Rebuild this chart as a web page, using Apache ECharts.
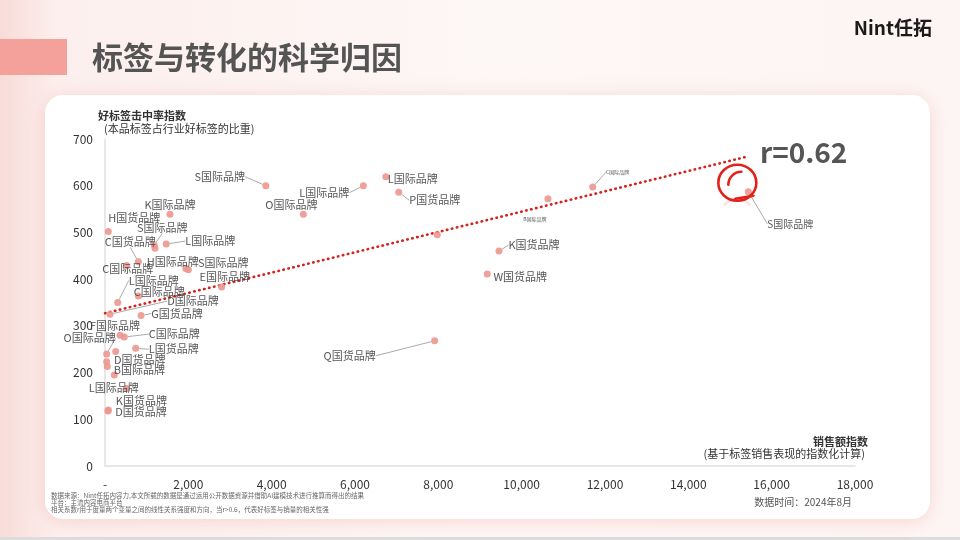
<!DOCTYPE html>
<html><head><meta charset="utf-8">
<script src="https://cdn.jsdelivr.net/npm/echarts@6/dist/echarts.min.js"></script>
<style>html,body{margin:0;padding:0;background:#fdf6f5;}#c{width:960px;height:540px;}</style>
</head><body><div id="c"></div>
<script>
// ---- data ----
const brandNames = ['S国际品牌','L国际品牌','L国际品牌','P国货品牌','O国际品牌','K国际品牌','H国货品牌','S国际品牌','','L国际品牌','C国际品牌','C国货品牌','H国际品牌','S国际品牌','E国际品牌','L国际品牌','C国际品牌','D国际品牌','G国货品牌','F国际品牌','C国际品牌','L国货品牌','O国际品牌','D国货品牌','','','B国际品牌','L国际品牌','K国货品牌','D国货品牌','','K国货品牌','W国货品牌','B国际品牌','C国际品牌','S国际品牌','Q国货品牌'];
const salesIndex = [3860,6200,6740,7050,4760,1560,80,1180,1200,1470,520,800,1940,2000,2800,305,800,120,865,360,463,737,40,257,40,55,223,520,80,70,7975,9456,9175,10630,11705,15440,7910];
const hitIndex   = [600,600,619,586,539,539,502,473,466,475,429,437,423,420,383,350,364,325,322,280,276,252,240,245,223,213,195,166,120,118,495,460,411,572,597,587,268];
const trendX = [0, 15400];
const trendY = [327, 662];
const xTicks = [0,2000,4000,6000,8000,10000,12000,14000,16000,18000];
const yTicks = [0,100,200,300,400,500,600,700];
const rValue = 'r=0.62';

// ---- label styling (offsets from point, px) ----
const labelDx = [-46,-39,27,36,-12,0,26,8,0,44,1,-8,-13,35,3,36,21,83,36,-5,50,38,-17,24,0,0,25,-13,33,33,0,35,33,-13,25,42,-85];
const labelDy = [-9,7,2,8,-9,-9,-14,-17,0,-3,3,-20,-7,-7,-10,-22,-4,-13,-2,-9,-3,1,-16,8,0,0,-5,-1,-9,1,0,-6,3,20,-15,32,15];
const leader  = [1,1,0,1,0,0,0,1,0,1,0,1,0,0,0,1,0,1,1,0,1,1,1,0,0,0,0,0,0,0,0,1,0,0,1,1,1];
const labelSize = brandNames.map((n,i)=> (i===33||i===34)?5 : (i===35?10:11));

const FONT = '"Noto Sans CJK SC","Noto Sans",sans-serif';
const chart = echarts.init(document.getElementById('c'), null, {renderer:'canvas'});

const scatterData = brandNames.map((n,i)=>({
  name:n, value:[salesIndex[i], hitIndex[i]],
  label:{show:n!=='', fontSize:labelSize[i]},
  labelLine:{show:leader[i]===1}
}));

function txt(id,x,y,text,font,fill,align){
  return {type:'text',id:id,x:x,y:y,z:10,style:{text:text,font:font,fill:fill,textAlign:align||'left',textVerticalAlign:'middle'}};
}

const baseGraphic = [
  {type:'rect',id:'bg',z:-10,shape:{x:0,y:0,width:960,height:540},style:{fill:new echarts.graphic.LinearGradient(0,0,1,0,[{offset:0,color:'#f8dcd8'},{offset:0.06,color:'#fcefed'},{offset:0.5,color:'#fdf7f6'},{offset:1,color:'#fdf5f4'}])}},
  {type:'rect',id:'bottomline',z:-9,shape:{x:0,y:537,width:960,height:3},style:{fill:'#dcdcdc'}},
  {type:'rect',id:'card',z:-8,shape:{x:45,y:95,width:885,height:424,r:18},style:{fill:'#ffffff',shadowBlur:18,shadowColor:'rgba(235,150,140,0.35)',shadowOffsetY:2}},
  {type:'rect',id:'accent',z:-7,shape:{x:0,y:39,width:67,height:36},style:{fill:'#f5a19b'}},
  txt('title',92,57,'标签与转化的科学归因','bold 31px '+FONT,'#545454'),
  txt('logo',932,28,'Nint任拓','bold 19px '+FONT,'#1a1a1a','right'),
  txt('yname1',98,116,'好标签击中率指数','bold 11px '+FONT,'#333'),
  txt('yname2',104,129,'(本品标签占行业好标签的比重)','11px '+FONT,'#333'),
  txt('xname1',868,442,'销售额指数','bold 11px '+FONT,'#333','right'),
  txt('xname2',865,454,'(基于标签销售表现的指数化计算)','11px '+FONT,'#333','right'),
  txt('rval',760,152,rValue,'bold 28px '+FONT,'#555'),
  txt('date',852,502,'数据时间：2024年8月','10px '+FONT,'#555','right'),
  txt('fn1',51,496,'数据来源：Nint任拓内容力,本文所载的数据是通过运用公开数据资源并借助AI建模技术进行推算而得出的结果','6.5px '+FONT,'#666'),
  txt('fn2',51,503,'平台：主流内容电商平台','6.5px '+FONT,'#666'),
  txt('fn3',51,510,'相关系数r用于度量两个变量之间的线性关系强度和方向，当r>0.6，代表好标签与销量的相关性强','6.5px '+FONT,'#666')
];

const option = {
  animation:false,
  textStyle:{fontFamily:FONT},
  grid:{left:105,right:105,top:139,bottom:74,containLabel:false},
  xAxis:{type:'value',min:xTicks[0],max:xTicks[xTicks.length-1],interval:2000,
    axisLine:{show:true,lineStyle:{color:'#e0e0e0',width:1.5}},axisTick:{show:false},splitLine:{show:false},
    axisLabel:{color:'#333',fontSize:12,margin:12,formatter:v=>v===0?'-':v.toLocaleString('en-US')}},
  yAxis:{type:'value',min:yTicks[0],max:yTicks[yTicks.length-1],interval:100,
    axisLine:{show:true,lineStyle:{color:'#e0e0e0',width:1.5}},axisTick:{show:false},splitLine:{show:false},
    axisLabel:{color:'#333',fontSize:12,margin:12}},
  graphic:baseGraphic,
  series:[
    {type:'line',data:trendX.map((x,i)=>[x,trendY[i]]),symbol:'none',silent:true,z:3,
      lineStyle:{color:'#d8201b',width:2.6,type:[0.5,4.6],cap:'round'}},
    {type:'scatter',data:scatterData,symbolSize:7,z:4,
      itemStyle:{color:'#ec968f',opacity:0.9},
      label:{show:true,position:'inside',formatter:'{b}',color:'#444',fontSize:11,textBorderWidth:0,fontFamily:FONT},
      labelLine:{show:false,lineStyle:{color:'#aaa',width:1}},
      labelLayout:function(p){return {dx:labelDx[p.dataIndex],dy:labelDy[p.dataIndex]};}
    }
  ]
};
chart.setOption(option);

// hand-drawn circle annotation around the S国际品牌 outlier
const sIdx = 35;
const c = chart.convertToPixel({gridIndex:0},[salesIndex[sIdx],hitIndex[sIdx]]);
const cx = c[0]-11, cy = c[1]-9;
chart.setOption({graphic:[
  {type:'ellipse',id:'circ1',z:12,shape:{cx:cx,cy:cy,rx:19,ry:18},style:{stroke:'#e3211c',lineWidth:2.6,fill:null}},
  {type:'arc',id:'circ2',z:12,shape:{cx:cx+4,cy:cy+2,r:13,startAngle:Math.PI*1.0,endAngle:Math.PI*1.5,clockwise:true},style:{stroke:'#e3211c',lineWidth:2.6,fill:null,lineCap:'round'}},
  {type:'line',id:'circ3',z:12,shape:{x1:cx-2,y1:cy+16,x2:cx+16,y2:cy+13},style:{stroke:'#e3211c',lineWidth:2.6,lineCap:'round'}},
  {type:'arc',id:'circ4',z:-5,shape:{cx:cx,cy:cy+32,r:16,startAngle:Math.PI*1.2,endAngle:Math.PI*1.8,clockwise:true},style:{stroke:'rgba(240,170,165,0.3)',lineWidth:3,fill:null}}
]});
</script></body></html>
